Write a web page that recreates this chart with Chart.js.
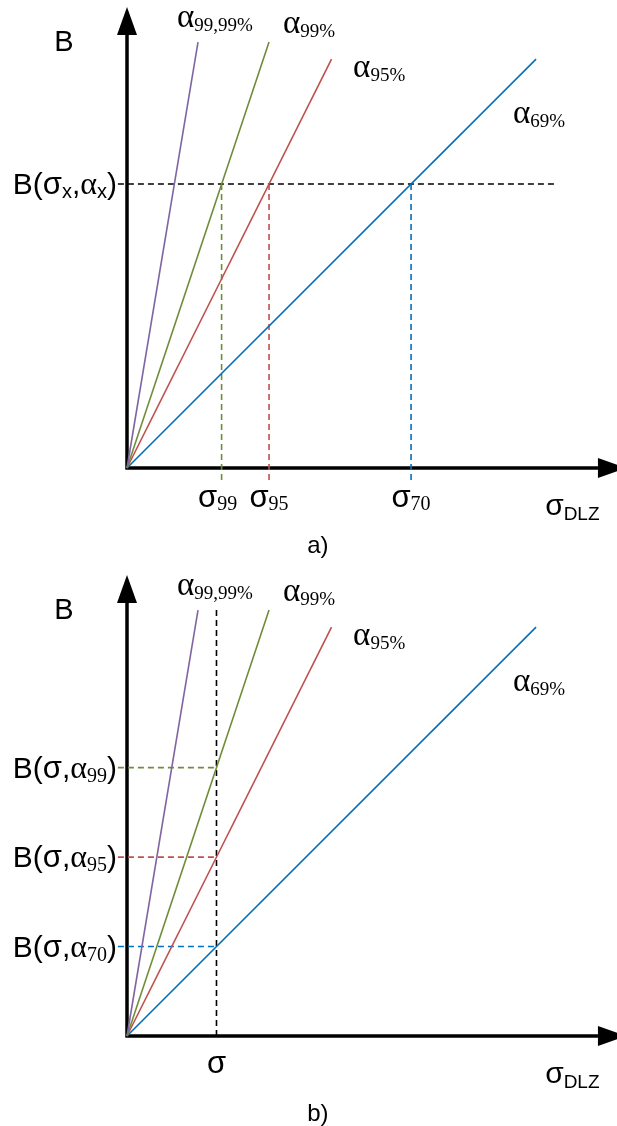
<!DOCTYPE html>
<html>
<head>
<meta charset="utf-8">
<script src="https://cdn.jsdelivr.net/npm/chart.js@4/dist/chart.umd.min.js"></script>
<style>
  html, body { margin: 0; padding: 0; background: #fff; }
  canvas { display: block; }
</style>
</head>
<body>
<canvas id="chartA" width="617" height="568"></canvas>
<canvas id="chartB" width="617" height="558"></canvas>
<script>
// confidence lines B = k * sigma, each drawn from the origin to its end point
const alphaSubs = ['99,99%', '99%', '95%', '69%'];
const lineEndSigma = [0.25, 0.5, 0.72, 1.44];
const lineEndB = [1.5, 1.5, 1.44, 1.44];
const lineColors = ['#8064a2', '#6f8c3c', '#c0504d', '#0070c0'];

// a) one budget level, sigma
const budgetA = 1.0;
const sigmaA = [0.333, 0.5, 1.0];
const sigmaSubsA = ['99', '95', '70'];

// b) one sigma, budget
const sigmaB = 0.315;
const budgetB = [0.945, 0.63, 0.315];
const budgetSubsB = ['99', '95', '70'];

const SANS = '"Liberation Sans", Arial, sans-serif';
const SERIF = '"Liberation Serif", "Times New Roman", serif';

// how far the guide lines run past the axes
const reach = { left: -0.032, right: 1.51, below: -0.056, top: 1.504 };
// where the alpha labels sit (sigma, B)
const alphaLabelAt = [[0.176, 1.553], [0.549, 1.532], [0.796, 1.377], [1.359, 1.215]];
// small sideways nudges for the sigma labels under the axis
const sigmaNudgeA = [-4, 0, 0];

function drawRich(ctx, parts, x, y, align) {
  let total = 0;
  const widths = parts.map(p => {
    ctx.font = p[2] + 'px ' + p[1];
    const w = ctx.measureText(p[0]).width;
    total += w;
    return w;
  });
  let cx = align === 'right' ? x - total : align === 'center' ? x - total / 2 : x;
  ctx.fillStyle = '#000';
  ctx.textBaseline = 'alphabetic';
  ctx.textAlign = 'left';
  parts.forEach((p, i) => {
    ctx.font = p[2] + 'px ' + p[1];
    ctx.fillText(p[0], cx, y + (p[3] || 0));
    cx += widths[i];
  });
}

const figurePlugin = {
  id: 'figure',
  beforeDatasetsDraw(chart, args, opts) {
    const { ctx, scales: { x, y } } = chart;
    const x0 = x.getPixelForValue(0), y0 = y.getPixelForValue(0);
    const yTip = y.getPixelForValue(opts.yTip);
    const xBase = x.getPixelForValue(opts.xBase);
    const head = 28, half = 10;
    ctx.save();
    ctx.strokeStyle = '#000';
    ctx.fillStyle = '#000';
    ctx.lineWidth = 3.5;
    ctx.beginPath();
    ctx.moveTo(x0, y0 + 1.5);
    ctx.lineTo(x0, yTip + head);
    ctx.moveTo(x0 - 1.5, y0);
    ctx.lineTo(xBase, y0);
    ctx.stroke();
    ctx.beginPath();
    ctx.moveTo(x0, yTip);
    ctx.lineTo(x0 - half, yTip + head);
    ctx.lineTo(x0 + half, yTip + head);
    ctx.closePath();
    ctx.fill();
    ctx.beginPath();
    ctx.moveTo(xBase + head, y0);
    ctx.lineTo(xBase, y0 - half);
    ctx.lineTo(xBase, y0 + half);
    ctx.closePath();
    ctx.fill();
    ctx.restore();
  },
  afterDatasetsDraw(chart, args, opts) {
    const { ctx, scales: { x, y } } = chart;
    ctx.save();
    opts.labels.forEach(l => {
      drawRich(ctx, l.parts,
        x.getPixelForValue(l.x) + (l.dx || 0),
        y.getPixelForValue(l.y) + (l.dy || 0),
        l.align || 'left');
    });
    ctx.restore();
  }
};

function lineSet(points, color, dash) {
  return {
    data: points,
    showLine: true,
    borderColor: color,
    borderWidth: 1.6,
    borderDash: dash || [],
    pointRadius: 0,
    fill: false,
    tension: 0,
    clip: false
  };
}

function alphaLines() {
  return lineEndSigma.map((s, i) =>
    lineSet([{ x: 0, y: 0 }, { x: s, y: lineEndB[i] }], lineColors[i]));
}

function commonLabels(panel) {
  const labels = alphaSubs.map((sub, i) => ({
    parts: [['α', SERIF, 33, 0], [sub, SERIF, 19, 4]],
    x: alphaLabelAt[i][0], y: alphaLabelAt[i][1]
  }));
  labels.push({ parts: [['B', SANS, 29, 0]], x: 0, y: 0, dx: -63, dy: -417, align: 'center' });
  labels.push({ parts: [['σ', SANS, 30, 0], ['DLZ', SANS, 19, 5]], x: 1.472, y: 0, dy: 47 });
  labels.push({ parts: [[panel, SANS, 24, 0]], x: 0.672, y: 0, dy: 85, align: 'center' });
  return labels;
}

function makeChart(id, datasets, labels) {
  const canvas = document.getElementById(id);
  return new Chart(canvas, {
    type: 'scatter',
    data: { datasets },
    options: {
      responsive: false,
      animation: false,
      devicePixelRatio: 1,
      layout: { padding: { left: 127, right: 0, top: 0, bottom: canvas.height - 468 } },
      scales: {
        x: { type: 'linear', min: 0, max: 1.725, display: false },
        y: { type: 'linear', min: 0, max: 1.648, display: false }
      },
      plugins: {
        legend: { display: false },
        tooltip: { enabled: false },
        figure: { yTip: 1.623, xBase: 1.658, labels }
      }
    },
    plugins: [figurePlugin]
  });
}

// a)
const setsA = alphaLines();
setsA.push(lineSet([{ x: reach.left, y: budgetA }, { x: reach.right, y: budgetA }], '#000', [6, 4]));
sigmaA.forEach((s, i) => {
  setsA.push(lineSet([{ x: s, y: budgetA }, { x: s, y: reach.below }], lineColors[i + 1], [6, 4]));
});
const labelsA = commonLabels('a)');
labelsA.push({
  parts: [['B(', SANS, 30, 0], ['σ', SANS, 31, 0], ['x', SANS, 20, 4], [',', SANS, 30, 0],
          ['α', SERIF, 32, 0], ['x', SANS, 20, 4], [')', SANS, 30, 0]],
  x: 0, y: budgetA, dx: -10, dy: 10, align: 'right'
});
sigmaA.forEach((s, i) => {
  labelsA.push({ parts: [['σ', SANS, 31, 0], [sigmaSubsA[i], SERIF, 20, 3]],
    x: s, y: 0, dx: sigmaNudgeA[i], dy: 39, align: 'center' });
});
makeChart('chartA', setsA, labelsA);

// b)
const setsB = alphaLines();
setsB.push(lineSet([{ x: sigmaB, y: 0 }, { x: sigmaB, y: reach.top }], '#000', [6, 4]));
budgetB.forEach((b, i) => {
  setsB.push(lineSet([{ x: reach.left, y: b }, { x: sigmaB, y: b }], lineColors[i + 1], [6, 4]));
});
const labelsB = commonLabels('b)');
budgetB.forEach((b, i) => {
  labelsB.push({
    parts: [['B(', SANS, 30, 0], ['σ', SANS, 31, 0], [',', SANS, 30, 0],
            ['α', SERIF, 32, 0], [budgetSubsB[i], SERIF, 20, 4], [')', SANS, 30, 0]],
    x: 0, y: b, dx: -10, dy: 10, align: 'right'
  });
});
labelsB.push({ parts: [['σ', SANS, 31, 0]], x: sigmaB, y: 0, dy: 37, align: 'center' });
makeChart('chartB', setsB, labelsB);
</script>
</body>
</html>
